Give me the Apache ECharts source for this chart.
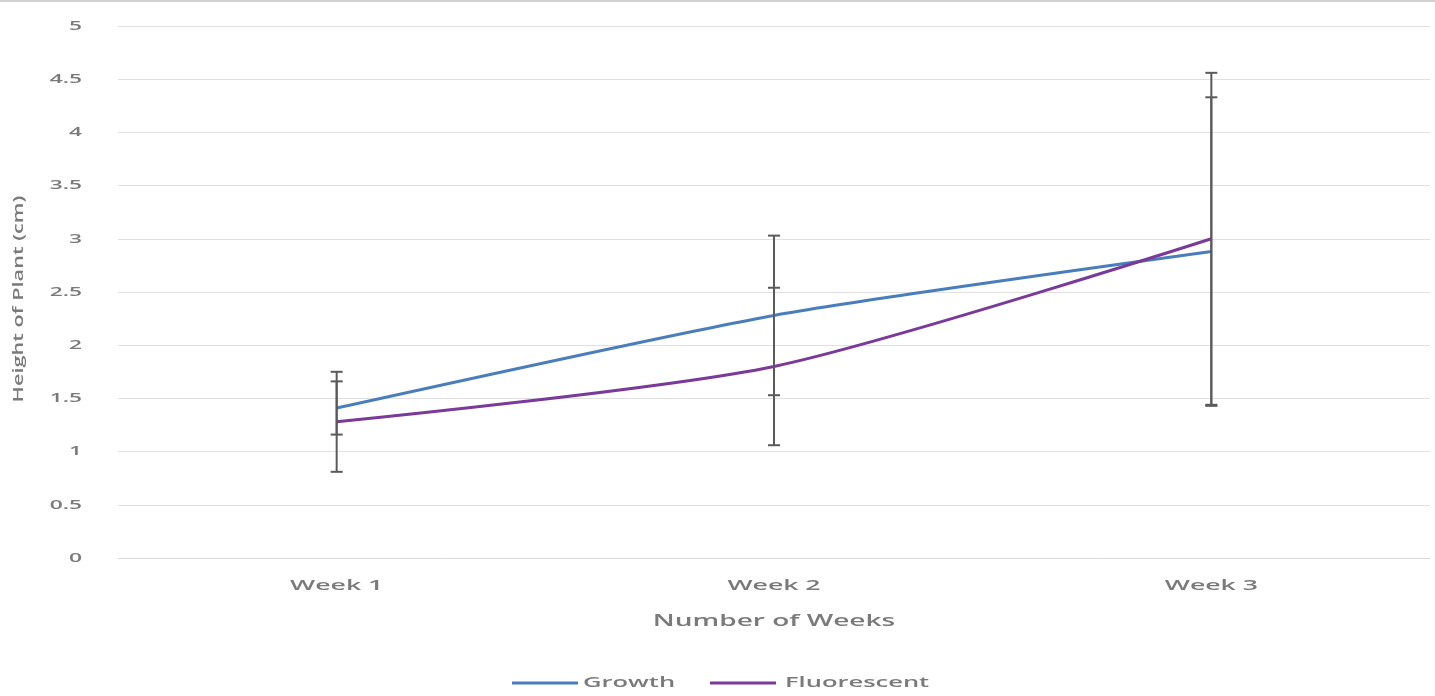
<!DOCTYPE html>
<html><head><meta charset="utf-8">
<script src="https://cdn.jsdelivr.net/npm/echarts@6/dist/echarts.min.js"></script>
<style>html,body{margin:0;padding:0;background:#fff}#c{width:1435px;height:696px}</style>
</head><body><div id="c"></div>
<script>
const categories = ['Week 1', 'Week 2', 'Week 3'];
const growth = [1.41, 2.28, 2.88];
const fluorescent = [1.28, 1.80, 3.00];
const growthErr = [0.25, 0.75, 1.45];
const fluorescentErr = [0.47, 0.74, 1.56];
const yTicks = [0, 0.5, 1, 1.5, 2, 2.5, 3, 3.5, 4, 4.5, 5];
const seriesNames = ['Growth', 'Fluorescent'];
const xTitle = 'Number of Weeks';
const yTitle = 'Height of Plant (cm)';

const colors = ['#4a7ebb', '#7a3a9a'];
const txt = '#7a7a7a';
const FONT = '"Open Sans", "Liberation Sans", sans-serif';

const errData = [];
categories.forEach((c, i) => {
  errData.push([i, growth[i] - growthErr[i], growth[i] + growthErr[i]]);
  errData.push([i, fluorescent[i] - fluorescentErr[i], fluorescent[i] + fluorescentErr[i]]);
});

const chart = echarts.init(document.getElementById('c'));
chart.setOption({
  animation: false,
  textStyle: {fontFamily: FONT},
  grid: {left: 118, right: 5, top: 26, bottom: 138},
  legend: {show: false, data: seriesNames},
  xAxis: {
    type: 'category', data: categories, boundaryGap: true,
    axisLine: {show: true, lineStyle: {color: '#d9d9d9'}},
    axisTick: {show: false},
    axisLabel: {show: false}
  },
  yAxis: {
    type: 'value', min: 0, max: 5, interval: 0.5,
    axisLine: {show: false}, axisTick: {show: false},
    axisLabel: {show: false},
    splitLine: {lineStyle: {color: '#e0e0e0'}}
  },
  series: [
    {name: seriesNames[0], type: 'line', data: growth, smooth: 0.2, symbol: 'none',
     lineStyle: {color: colors[0], width: 3}, itemStyle: {color: colors[0]}, z: 3},
    {name: seriesNames[1], type: 'line', data: fluorescent, smooth: 0.25, symbol: 'none',
     lineStyle: {color: colors[1], width: 3}, itemStyle: {color: colors[1]}, z: 3},
    {name: 'err', type: 'custom', data: errData, z: 4,
     renderItem: function (params, api) {
       const x = api.value(0);
       const lo = api.coord([x, api.value(1)]);
       const hi = api.coord([x, api.value(2)]);
       const w = 6;
       const st = {stroke: '#5a5a5a', lineWidth: 2};
       return {type: 'group', children: [
         {type: 'line', shape: {x1: hi[0], y1: hi[1], x2: lo[0], y2: lo[1]}, style: st},
         {type: 'line', shape: {x1: hi[0] - w, y1: hi[1], x2: hi[0] + w, y2: hi[1]}, style: st},
         {type: 'line', shape: {x1: lo[0] - w, y1: lo[1], x2: lo[0] + w, y2: lo[1]}, style: st}
       ]};
     },
     encode: {x: 0, y: [1, 2]}, tooltip: {show: false}}
  ]
});

// Wide text labels, positioned via the library's own scales
const g = [];
function wideText(text, x, y, size, sx, align, rot) {
  g.push({type: 'text', x: x, y: y, scaleX: sx, scaleY: 1, rotation: rot || 0, silent: true,
    style: {text: text, x: 0, y: 0, fill: txt, font: '600 ' + size + 'px ' + FONT,
            align: align, verticalAlign: 'middle'}});
}
categories.forEach((c, i) => {
  const p = chart.convertToPixel({gridIndex: 0}, [i, 0]);
  wideText(c, p[0], p[1] + 28, 14, 1.9, 'center');
});
yTicks.forEach(v => {
  const p = chart.convertToPixel({gridIndex: 0}, [0, v]);
  wideText(String(v), 82, p[1], 13, 1.75, 'right');
});
const pL = chart.convertToPixel({gridIndex: 0}, [0, 0]);
const pT = chart.convertToPixel({gridIndex: 0}, [0, 5]);
wideText(xTitle, (118 + 1430) / 2, pL[1] + 63, 16, 1.75, 'center');
wideText(yTitle, 19, (pL[1] + pT[1]) / 2 + 7, 14, 1.55, 'center', Math.PI / 2);
// legend
const legY = 683;
const legItems = [{x: 512, tx: 583}, {x: 710, tx: 785}];
seriesNames.forEach((n, i) => {
  g.push({type: 'line', silent: true, shape: {x1: legItems[i].x, y1: legY, x2: legItems[i].x + 66, y2: legY},
          style: {stroke: colors[i], lineWidth: 3}});
  wideText(n, legItems[i].tx, legY, 15, 1.7, 'left');
});
g.push({type: 'line', silent: true, shape: {x1: 0, y1: 1, x2: 1435, y2: 1}, style: {stroke: '#d0d0d0', lineWidth: 2}});
chart.setOption({graphic: {elements: g}});
</script></body></html>
